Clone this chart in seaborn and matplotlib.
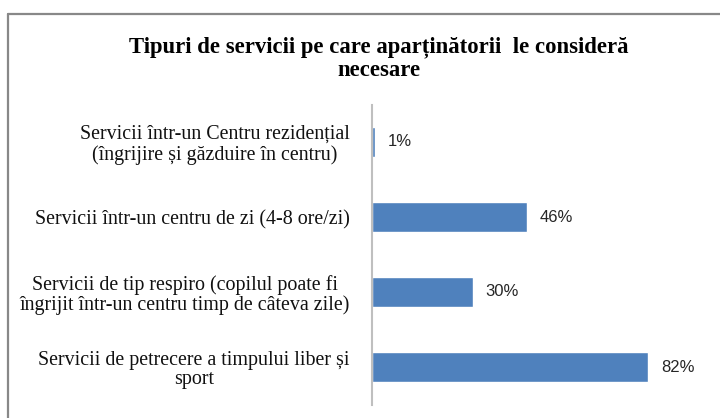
import matplotlib.pyplot as plt
import matplotlib.lines as mlines
import seaborn as sns
import pandas as pd

sns.set_style("white")
plt.rcParams["font.family"] = ["Liberation Serif", "DejaVu Serif"]

categories = [
    "Servicii într-un Centru rezidențial\n(îngrijire și găzduire în centru)",
    "Servicii într-un centru de zi (4-8 ore/zi)",
    "Servicii de tip respiro (copilul poate fi\nîngrijit într-un centru timp de câteva zile)",
    "Servicii de petrecere a timpului liber și\nsport",
]
values = [1, 46, 30, 82]
value_labels = ["1%", "46%", "30%", "82%"]

title = "Tipuri de servicii pe care aparținătorii  le consideră\nnecesare"

df = pd.DataFrame({"Serviciu": categories, "Procent": values})

fig = plt.figure(figsize=(7.2, 4.18), dpi=100)
ax = fig.add_axes([372 / 720, 13.5 / 418, 337 / 720, 300 / 418])

sns.barplot(data=df, x="Procent", y="Serviciu", orient="h", color="#4F81BD",
            saturation=1, width=0.4, ax=ax)

ax.set_xlim(0, 100)
ax.set_xlabel("")
ax.set_ylabel("")
ax.set_xticks([])
ax.tick_params(axis="y", length=0, pad=16)
for lbl in ax.get_yticklabels():
    lbl.set_fontsize(14.4)
    lbl.set_multialignment("center")
    lbl.set_linespacing(1.05)
    lbl.set_color("#111111")

for s in ["top", "right", "bottom"]:
    ax.spines[s].set_visible(False)
ax.spines["left"].set_color("#BFBFBF")
ax.spines["left"].set_linewidth(1.5)

ax.bar_label(ax.containers[0], labels=value_labels, padding=9,
             fontsize=12, color="#262626", family="Liberation Sans")

fig.text(379 / 720, 1 - 58.5 / 418, title, ha="center", va="center",
         fontsize=16.4, fontweight="bold", linespacing=1.12, color="#000000")

# frame around the chart area
fig.add_artist(mlines.Line2D([8 / 720, 8 / 720], [0, 1 - 13.5 / 418],
                             color="#888888", lw=1.6, transform=fig.transFigure))
fig.add_artist(mlines.Line2D([8 / 720, 1], [1 - 13.5 / 418, 1 - 13.5 / 418],
                             color="#888888", lw=1.6, transform=fig.transFigure))

fig.savefig("out.png", dpi=100)
